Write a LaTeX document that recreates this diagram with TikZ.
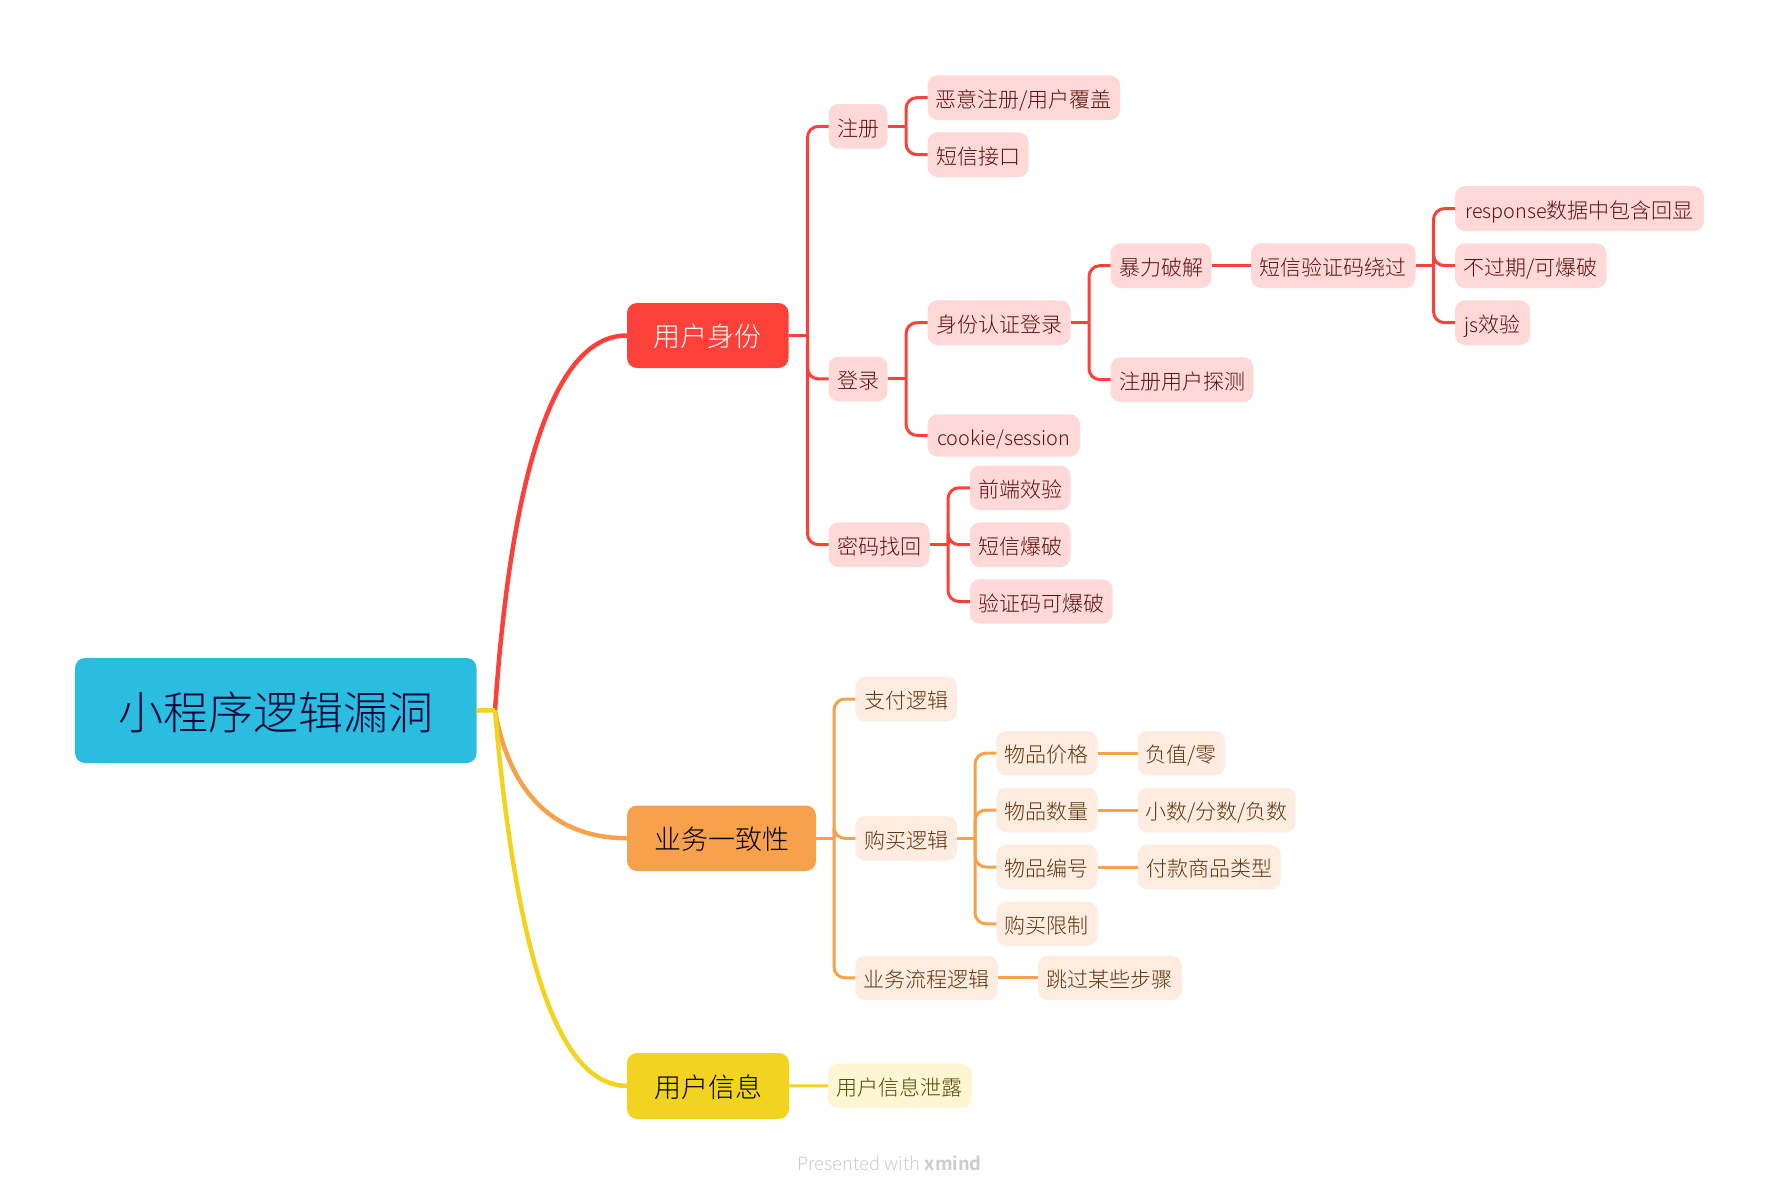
\documentclass[tikz,border=0pt]{standalone}
\usepackage{fontspec}
\setmainfont[BoldFont={Noto Sans CJK SC Bold}]{Noto Sans CJK SC Light}
\definecolor{rootfill}{HTML}{2BBDE0}
\definecolor{roottext}{HTML}{0A0A3C}
\definecolor{redline}{HTML}{FC413A}
\definecolor{redsub}{HTML}{FFD9D8}
\definecolor{redtext}{HTML}{5A0F0D}
\definecolor{orangeline}{HTML}{F7A14D}
\definecolor{orangesub}{HTML}{FDECDF}
\definecolor{orangetext}{HTML}{5F3510}
\definecolor{yellowline}{HTML}{F2D31F}
\definecolor{yellowsub}{HTML}{FCF6D2}
\definecolor{yellowtext}{HTML}{544705}
\newcommand{\lat}[1]{{\fontsize{19.8pt}{26pt}\selectfont #1}}
\tikzset{
  box/.style={inner sep=0pt,outer sep=0pt,align=center,rounded corners=10pt},
  rootbox/.style={box,fill=rootfill,text=roottext,font=\fontsize{45pt}{50pt}\selectfont,text height=40pt,text depth=1.2pt},
  mainred/.style={box,fill=redline,text=white,font=\fontsize{27pt}{32pt}\selectfont,text height=24pt,text depth=1.6pt},
  mainorange/.style={box,fill=orangeline,text=black,font=\fontsize{27pt}{32pt}\selectfont,text height=24pt,text depth=1.6pt},
  mainyellow/.style={box,fill=yellowline,text=black,font=\fontsize{27pt}{32pt}\selectfont,text height=24pt,text depth=1.6pt},
  subred/.style={box,fill=redsub,text=redtext,font=\fontsize{21pt}{26pt}\selectfont,text height=20.5pt,text depth=1pt},
  suborange/.style={box,fill=orangesub,text=orangetext,font=\fontsize{21pt}{26pt}\selectfont,text height=20.5pt,text depth=1pt},
  subyellow/.style={box,fill=yellowsub,text=yellowtext,font=\fontsize{21pt}{26pt}\selectfont,text height=20.5pt,text depth=1pt},
  redl/.style={draw=redline,line width=3pt,rounded corners=11pt},
  orangel/.style={draw=orangeline,line width=3pt,rounded corners=11pt},
  yellowl/.style={draw=yellowline,line width=3pt},
  trunkred/.style={draw=redline,line width=4.5pt},
  trunkorange/.style={draw=orangeline,line width=4.5pt},
  trunkyellow/.style={draw=yellowline,line width=4.5pt},
}
% name, left, top, right, bottom, style, text
\newcommand{\tnode}[7]{\node[#6,minimum width={#4-#2},minimum height={#5-#3}] (#1) at ({(#2+#4)/2},{(#3+#5)/2}) {#7};}
% parent, spine x, style, children: stem plus rounded branches
\newcommand{\tbranch}[4]{%
  \coordinate (j-#1) at (#2,0);
  \draw[#3] (#1.east) -- (#1.east -| j-#1);
  \foreach \kid in {#4} {\draw[#3] (#1.east -| j-#1) |- (\kid.west);}
}
\begin{document}
\begin{tikzpicture}[x=1pt,y=-1pt]
\useasboundingbox (0,0) rectangle (1779,1195);
\tnode{root}{75}{658}{476.5}{763}{rootbox}{小程序逻辑漏洞}
\tnode{ident}{627}{303}{788.5}{368}{mainred}{用户身份}
\tnode{biz}{627}{805.5}{816}{871}{mainorange}{业务一致性}
\tnode{info}{627}{1053}{789}{1119}{mainyellow}{用户信息}

\tnode{reg}{828.5}{104}{887.5}{148.7}{subred}{注册}
\tnode{malreg}{927.5}{75.3}{1120}{120}{subred}{恶意注册/用户覆盖}
\tnode{smsapi}{927.5}{132.3}{1028.5}{177}{subred}{短信接口}
\tnode{login}{828.5}{356.5}{887.5}{401.3}{subred}{登录}
\tnode{auth}{927.5}{300.3}{1070.5}{345}{subred}{身份认证登录}
\tnode{cookie}{927.5}{414.3}{1080}{456.5}{subred}{\lat{cookie/session}}
\tnode{brute}{1110.6}{243.3}{1211.5}{288}{subred}{暴力破解}
\tnode{probe}{1110.6}{357.3}{1253.5}{402}{subred}{注册用户探测}
\tnode{bypass}{1251}{243.3}{1415.5}{288}{subred}{短信验证码绕过}
\tnode{echo}{1455}{186.2}{1704}{231}{subred}{\lat{response}数据中包含回显}
\tnode{expire}{1455}{243.3}{1606.5}{288}{subred}{不过期/可爆破}
\tnode{js}{1455}{300.3}{1530}{345}{subred}{\lat{js}效验}
\tnode{reset}{828.5}{522.3}{929.5}{567}{subred}{密码找回}
\tnode{front}{969.8}{465.6}{1070.5}{510}{subred}{前端效验}
\tnode{smsb}{969.8}{522.3}{1070.5}{567}{subred}{短信爆破}
\tnode{capt}{969.8}{579.3}{1112.6}{623.7}{subred}{验证码可爆破}

\tnode{pay}{855.4}{676.7}{957}{721.3}{suborange}{支付逻辑}
\tnode{buy}{855.4}{816}{957}{860.7}{suborange}{购买逻辑}
\tnode{flow}{855.4}{955.7}{998}{1000}{suborange}{业务流程逻辑}
\tnode{skip}{1038}{955.7}{1181.8}{1000}{suborange}{跳过某些步骤}
\tnode{price}{996.4}{731}{1097.5}{775.3}{suborange}{物品价格}
\tnode{qty}{996.4}{787.7}{1097.5}{832.3}{suborange}{物品数量}
\tnode{code}{996.4}{844.7}{1097.5}{889.3}{suborange}{物品编号}
\tnode{limit}{996.4}{901.7}{1097.5}{946}{suborange}{购买限制}
\tnode{neg}{1137.5}{731}{1225}{775.3}{suborange}{负值/零}
\tnode{frac}{1137.5}{787.7}{1295.7}{832.3}{suborange}{小数/分数/负数}
\tnode{ptype}{1137.5}{844.7}{1280.7}{889.3}{suborange}{付款商品类型}

\tnode{leak}{828}{1063.7}{971.8}{1108}{subyellow}{用户信息泄露}

\node[font=\fontsize{18.3pt}{22pt}\selectfont,text=black!20] (foot) at (889.5,1163) {Presented with \textbf{xmind}};

\tbranch{ident}{807.5}{redl}{reg,login,reset}
\tbranch{reg}{906}{redl}{malreg,smsapi}
\tbranch{login}{906}{redl}{auth,cookie}
\tbranch{auth}{1089}{redl}{brute,probe}
\draw[redl] (brute) -- (bypass);
\tbranch{bypass}{1433.5}{redl}{echo,expire,js}
\tbranch{reset}{948}{redl}{front,smsb,capt}

\tbranch{biz}{834}{orangel}{pay,buy,flow}
\tbranch{buy}{975}{orangel}{price,qty,code,limit}
\draw[orangel] (price) -- (neg);
\draw[orangel] (qty) -- (frac);
\draw[orangel] (code) -- (ptype);
\draw[orangel] (flow) -- (skip);

\draw[yellowl] (info) -- (leak);

\coordinate (hub) at (495,710.4);
\draw[trunkred] (hub) .. controls (515,420) and (570,335) .. (ident.west);
\draw[trunkorange] (hub) .. controls (508,785) and (548,838) .. (biz.west);
\draw[trunkyellow] (hub) .. controls (520,1000) and (570,1085) .. (info.west);
\draw[trunkyellow] (root.east) -- (hub);
\end{tikzpicture}
\end{document}
